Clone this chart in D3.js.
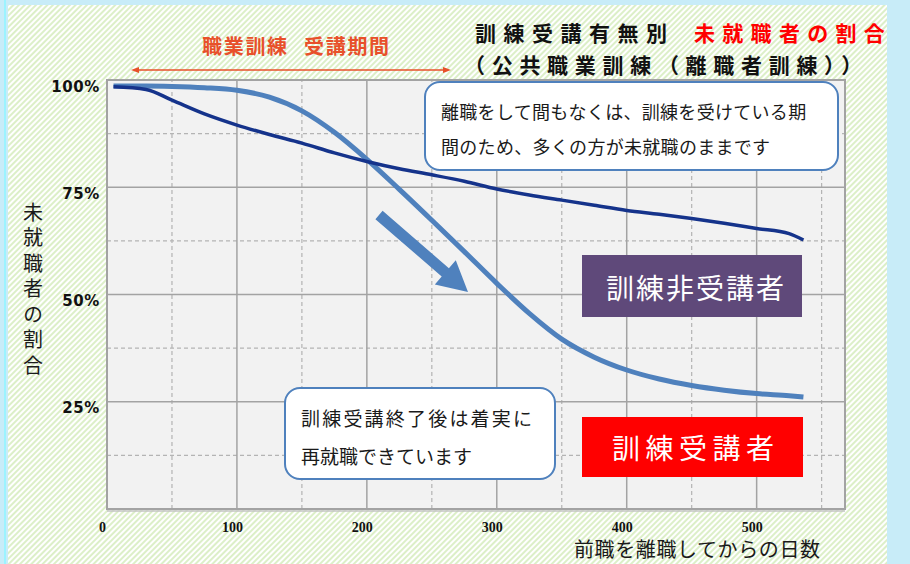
<!DOCTYPE html>
<html lang="ja">
<head>
<meta charset="utf-8">
<script src="https://cdn.jsdelivr.net/npm/d3@7"></script>
<style>
    body { margin: 0; background: #c8ecf8; }
    svg { display: block; }
    text { font-family: "Noto Sans CJK JP", sans-serif; }
</style>
</head>
<body>
<div id="chart"></div>
<script>
// 前職を離職してからの日数
const days = [5, 30, 50, 75, 100, 125, 150, 175, 200, 225, 250, 275, 300, 325, 350, 375, 400, 425, 450, 475, 500, 525, 536];
// 未就職者の割合 (%) 訓練受講者
const trainees = [98.6, 98.6, 98.5, 98.2, 97.6, 96.0, 92.8, 87.8, 81.5, 74.5, 67.3, 60.0, 52.6, 45.6, 39.6, 35.4, 32.4, 30.3, 28.8, 27.7, 26.9, 26.4, 26.1];
// 訓練非受講者
const nonTrainees = [98.4, 97.8, 95.3, 92.1, 89.5, 87.3, 85.3, 83.0, 81.0, 79.3, 77.9, 76.4, 74.6, 73.2, 72.0, 70.8, 69.6, 68.7, 67.7, 66.6, 65.4, 64.2, 62.7];

const xTicks = [0, 100, 200, 300, 400, 500];
const xMinor = [50, 150, 250, 350, 450, 550];
const yTicks = [25, 50, 75, 100];
const yMinor = [12.5, 37.5, 62.5, 87.5];

let svg = d3.select("#chart").append("svg")
    .attr("width", 910)
    .attr("height", 564);

// hatched background
let pat = svg.append("defs").append("pattern")
    .attr("id", "hatch")
    .attr("width", 4)
    .attr("height", 4)
    .attr("patternUnits", "userSpaceOnUse")
    .attr("patternTransform", "rotate(45)");
pat.append("rect").attr("width", 4).attr("height", 4).attr("fill", "#ffffff");
pat.append("rect").attr("width", 2).attr("height", 4).attr("fill", "#dcefc8");

svg.append("rect").attr("width", 910).attr("height", 564).attr("fill", "#c8ecf8");
svg.append("rect").attr("x", 4).attr("width", 2).attr("height", 564).attr("fill", "#9cf3ff");
svg.append("rect")
    .attr("x", 8).attr("y", 5)
    .attr("width", 879).attr("height", 559)
    .attr("fill", "url(#hatch)");

let x = d3.scaleLinear().domain([0, 568]).range([107, 845]);
let y = d3.scaleLinear().domain([0, 100]).range([509, 80]);

// plot area
svg.append("rect")
    .attr("x", x(0)).attr("y", y(100))
    .attr("width", x(568) - x(0)).attr("height", y(0) - y(100))
    .attr("fill", "#f2f2f2");

let grid = svg.append("g");
grid.selectAll(".xm").data(xMinor).join("line")
    .attr("x1", d => x(d)).attr("x2", d => x(d))
    .attr("y1", y(0)).attr("y2", y(100))
    .attr("stroke", "#b4b4b4").attr("stroke-width", 1.2).attr("stroke-dasharray", "4,3");
grid.selectAll(".ym").data(yMinor).join("line")
    .attr("y1", d => y(d)).attr("y2", d => y(d))
    .attr("x1", x(0)).attr("x2", x(568))
    .attr("stroke", "#b4b4b4").attr("stroke-width", 1.2).attr("stroke-dasharray", "4,3");
grid.selectAll(".xM").data(xTicks.slice(1)).join("line")
    .attr("x1", d => x(d)).attr("x2", d => x(d))
    .attr("y1", y(0)).attr("y2", y(100))
    .attr("stroke", "#a3a3a3").attr("stroke-width", 1.5);
grid.selectAll(".yM").data(yTicks.slice(0, 3)).join("line")
    .attr("y1", d => y(d)).attr("y2", d => y(d))
    .attr("x1", x(0)).attr("x2", x(568))
    .attr("stroke", "#a3a3a3").attr("stroke-width", 1.5);

svg.append("rect")
    .attr("x", x(0)).attr("y", y(100))
    .attr("width", x(568) - x(0)).attr("height", y(0) - y(100))
    .attr("fill", "none").attr("stroke", "#a3a3a3").attr("stroke-width", 2);
svg.append("line")
    .attr("x1", x(0)).attr("x2", x(568)).attr("y1", y(0) + 2).attr("y2", y(0) + 2)
    .attr("stroke", "#c4c4c4").attr("stroke-width", 1.5);

// axes
let xAxis = svg.append("g")
    .attr("transform", `translate(0, ${y(0)})`)
    .call(d3.axisBottom(x).tickValues(xTicks).tickSize(0).tickPadding(0));
xAxis.select(".domain").remove();
xAxis.selectAll("text")
    .attr("x", -5).attr("y", 23).attr("dy", 0)
    .style("font-family", "'Liberation Serif', serif")
    .style("font-weight", "bold")
    .style("font-size", "14px")
    .attr("fill", "#111");

let yAxis = svg.append("g")
    .attr("transform", `translate(${x(0)}, 0)`)
    .call(d3.axisLeft(y).tickValues(yTicks).tickSize(0).tickFormat(d => d + "%"));
yAxis.select(".domain").remove();
yAxis.selectAll("text")
    .attr("x", -7).attr("dy", 11)
    .style("font-family", "'DejaVu Sans', sans-serif")
    .style("font-weight", "bold")
    .style("font-size", "15px")
    .style("letter-spacing", "0.6px")
    .attr("fill", "#111");

// y axis title, vertical
svg.append("text")
    .attr("x", 33).attr("y", 202)
    .style("writing-mode", "vertical-rl")
    .style("text-orientation", "upright")
    .style("font-size", "20px")
    .style("letter-spacing", "5.5px")
    .attr("fill", "#1a1a1a")
    .text("未就職者の割合");

svg.append("text")
    .attr("x", 574).attr("y", 557)
    .style("font-size", "20px")
    .style("letter-spacing", "0.6px")
    .attr("fill", "#1a1a1a")
    .text("前職を離職してからの日数");

// lines
let line = d3.line()
    .x((d, i) => x(days[i]))
    .y(d => y(d))
    .curve(d3.curveMonotoneX);

svg.append("path")
    .attr("d", line(trainees))
    .attr("fill", "none")
    .attr("stroke", "#4f81bd")
    .attr("stroke-width", 5);

svg.append("path")
    .attr("d", line(nonTrainees))
    .attr("fill", "none")
    .attr("stroke", "#15338b")
    .attr("stroke-width", 3.5);

// big arrow
let ax0 = 379, ay0 = 215, ax1 = 468, ay1 = 292;
let len = Math.hypot(ax1 - ax0, ay1 - ay0);
let ang = Math.atan2(ay1 - ay0, ax1 - ax0) * 180 / Math.PI;
svg.append("polygon")
    .attr("points", [[0, -5.5], [len - 30, -5.5], [len - 30, -16], [len, 0], [len - 30, 16], [len - 30, 5.5], [0, 5.5]].join(" "))
    .attr("transform", `translate(${ax0}, ${ay0}) rotate(${ang})`)
    .attr("fill", "#4f81bd");

// training period arrow
let red = "#e8502a";
svg.append("line")
    .attr("x1", 136).attr("x2", 446).attr("y1", 70).attr("y2", 70)
    .attr("stroke", red).attr("stroke-width", 1.5);
svg.append("polygon").attr("points", "131,70 139,67 139,73").attr("fill", red);
svg.append("polygon").attr("points", "451,70 443,67 443,73").attr("fill", red);

svg.append("text")
    .attr("x", 202).attr("y", 54)
    .style("font-size", "20px").style("font-weight", "bold").style("letter-spacing", "1.7px")
    .attr("fill", red)
    .text("職業訓練");
svg.append("text")
    .attr("x", 304).attr("y", 54)
    .style("font-size", "20px").style("font-weight", "bold").style("letter-spacing", "1.7px")
    .attr("fill", red)
    .text("受講期間");

// title
svg.append("text")
    .attr("x", 475).attr("y", 41)
    .style("font-size", "21px").style("font-weight", "bold").style("letter-spacing", "7.5px")
    .attr("fill", "#111")
    .text("訓練受講有無別");
svg.append("text")
    .attr("x", 694).attr("y", 41)
    .style("font-size", "21px").style("font-weight", "bold").style("letter-spacing", "7.3px")
    .attr("fill", "#ff0000")
    .text("未就職者の割合");
svg.append("text")
    .attr("x", 464).attr("y", 73)
    .style("font-size", "21px").style("font-weight", "bold").style("letter-spacing", "6.7px")
    .attr("fill", "#111")
    .text("（公共職業訓練（離職者訓練））");

// callouts
function callout(x0, y0, w, h, lines, size) {
    let g = svg.append("g");
    g.append("rect")
        .attr("x", x0).attr("y", y0)
        .attr("width", w).attr("height", h)
        .attr("rx", 15).attr("ry", 15)
        .attr("fill", "#ffffff")
        .attr("stroke", "#4f81bd")
        .attr("stroke-width", 2);
    lines.forEach(t => {
        g.append("text")
            .attr("x", t.x).attr("y", t.y)
            .style("font-size", size + "px")
            .style("letter-spacing", t.ls + "px")
            .attr("fill", "#1a1a1a")
            .text(t.text);
    });
}

callout(425, 82, 413, 88, [
    { x: 441, y: 119, ls: 0.3, text: "離職をして間もなくは、訓練を受けている期" },
    { x: 441, y: 154, ls: 0.3, text: "間のため、多くの方が未就職のままです" }
], 18);

callout(285, 388, 270, 91, [
    { x: 301, y: 426, ls: 2.2, text: "訓練受講終了後は着実に" },
    { x: 301, y: 464, ls: 0, text: "再就職できています" }
], 19);

// series labels
svg.append("rect")
    .attr("x", 582).attr("y", 255).attr("width", 220).attr("height", 62)
    .attr("fill", "#5f497a");
svg.append("text")
    .attr("x", 606).attr("y", 299)
    .style("font-size", "28px").style("letter-spacing", "2px")
    .attr("fill", "#ffffff")
    .text("訓練非受講者");

svg.append("rect")
    .attr("x", 582).attr("y", 417).attr("width", 221).attr("height", 60)
    .attr("fill", "#ff0000");
svg.append("text")
    .attr("x", 612).attr("y", 459)
    .style("font-size", "28px").style("letter-spacing", "5.5px")
    .attr("fill", "#ffffff")
    .text("訓練受講者");
</script>
</body>
</html>
